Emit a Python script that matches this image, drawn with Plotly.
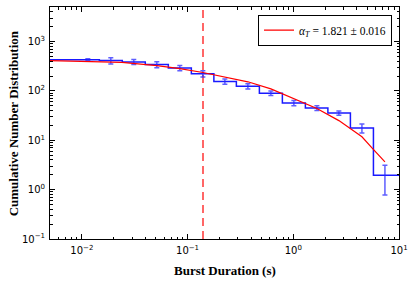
import numpy as np
import plotly.graph_objects as go

# ---- data ----
bin_centers = [0.00691, 0.0114, 0.0188, 0.0310, 0.0512, 0.0845, 0.1396, 0.2254,
               0.372, 0.614, 1.013, 1.672, 2.70, 4.46, 7.36]
counts = [428, 430, 411, 387, 341, 292, 224, 156, 124, 90, 56.9, 45.1, 35.7, 17.7, 1.95]
errors = [None, 20, 58, 45, 48, 35, 33, 19, 15, 9.5, 7.0, 5.0, 3.4, 3.6, 1.17]

model_x = [0.00498, 0.0114, 0.0239, 0.0513, 0.0845, 0.1396, 0.2254, 0.372, 0.614,
           1.013, 1.672, 2.70, 4.46, 5.66, 7.36]
model_y = [411, 393, 378, 326, 283, 236, 193, 153, 110, 70.5, 44.0, 25.0, 11.8, 6.7, 3.66]

threshold = 0.14
legend_label = "<i>α</i><sub><i>T</i></sub> = 1.821 ± 0.016"

x_tickvals = [0.01, 0.1, 1, 10]
x_ticktext = ["10<sup>−2</sup>", "10<sup>−1</sup>", "10<sup>0</sup>", "10<sup>1</sup>"]
y_tickvals = [0.1, 1, 10, 100, 1000]
y_ticktext = ["10<sup>−1</sup>", "10<sup>0</sup>", "10<sup>1</sup>", "10<sup>2</sup>", "10<sup>3</sup>"]

# ---- step edges derived from bin centres ----
logc = np.log10(bin_centers)
mids = (logc[1:] + logc[:-1]) / 2
step = logc[1] - logc[0]
edges = np.concatenate([[logc[0] - step], mids, [logc[-1] + step]])
step_x = list(10 ** edges)
step_y = list(counts) + [counts[-1]]

fig = go.Figure()

fig.add_trace(go.Scatter(x=[threshold, threshold], y=[0.1, 5000], mode="lines",
                         line=dict(color="rgba(255,0,0,0.6)", width=2, dash="8px,5px"),
                         showlegend=False, hoverinfo="skip"))

fig.add_trace(go.Scatter(x=step_x, y=step_y, mode="lines", line_shape="hv",
                         line=dict(color="rgba(0,0,255,0.9)", width=1.5),
                         showlegend=False))

err_x = [c for c, e in zip(bin_centers, errors) if e is not None]
err_y = [n for n, e in zip(counts, errors) if e is not None]
err_v = [e for e in errors if e is not None]
fig.add_trace(go.Scatter(x=err_x, y=err_y, mode="markers",
                         marker=dict(color="rgba(0,0,0,0)", size=1),
                         error_y=dict(type="data", array=err_v, visible=True,
                                      color="rgba(40,40,255,0.75)", thickness=1.5, width=2.5),
                         showlegend=False))

fig.add_trace(go.Scatter(x=model_x, y=model_y, mode="lines",
                         line=dict(color="red", width=1.2),
                         name=legend_label, showlegend=True))

axis_common = dict(
    showline=True, linecolor="black", linewidth=1, mirror="allticks",
    ticks="inside", ticklen=5, tickcolor="black", tickwidth=1,
    showgrid=False, zeroline=False, automargin=False, ticklabelstandoff=2,
    tickfont=dict(family="DejaVu Sans", size=10, color="black"),
    minor=dict(ticks="inside", ticklen=2.5, tickcolor="black", dtick="D1", showgrid=False),
)

fig.update_xaxes(type="log", range=[np.log10(0.005), 1],
                 tickmode="array", tickvals=x_tickvals, ticktext=x_ticktext,
                 **axis_common)
fig.update_yaxes(type="log", range=[-1, 3.7],
                 tickmode="array", tickvals=y_tickvals, ticktext=y_ticktext,
                 **axis_common)

title_font = dict(family="Liberation Serif", size=13, color="black")
fig.add_annotation(text="<b>Burst Duration (s)</b>", xref="paper", yref="paper",
                   x=0.5, y=-0.095, xanchor="center", yanchor="top",
                   showarrow=False, font=title_font)
fig.add_annotation(text="<b>Cumulative Number Distribution</b>", xref="paper", yref="paper",
                   x=-0.105, y=0.5, xanchor="center", yanchor="middle", textangle=-90,
                   showarrow=False, font=title_font)

fig.update_layout(
    width=415, height=281,
    margin=dict(l=50, r=16, t=7, b=42, autoexpand=False),
    plot_bgcolor="white", paper_bgcolor="white",
    legend=dict(x=0.98, y=0.967, xanchor="right", yanchor="top",
                bgcolor="white", bordercolor="black", borderwidth=1,
                font=dict(family="Liberation Serif", size=11.5, color="black"),
                itemwidth=30, tracegroupgap=0),
    showlegend=True,
)

fig.write_html("out.html", config={"displayModeBar": False},
               post_script="document.body.style.margin='0';")
